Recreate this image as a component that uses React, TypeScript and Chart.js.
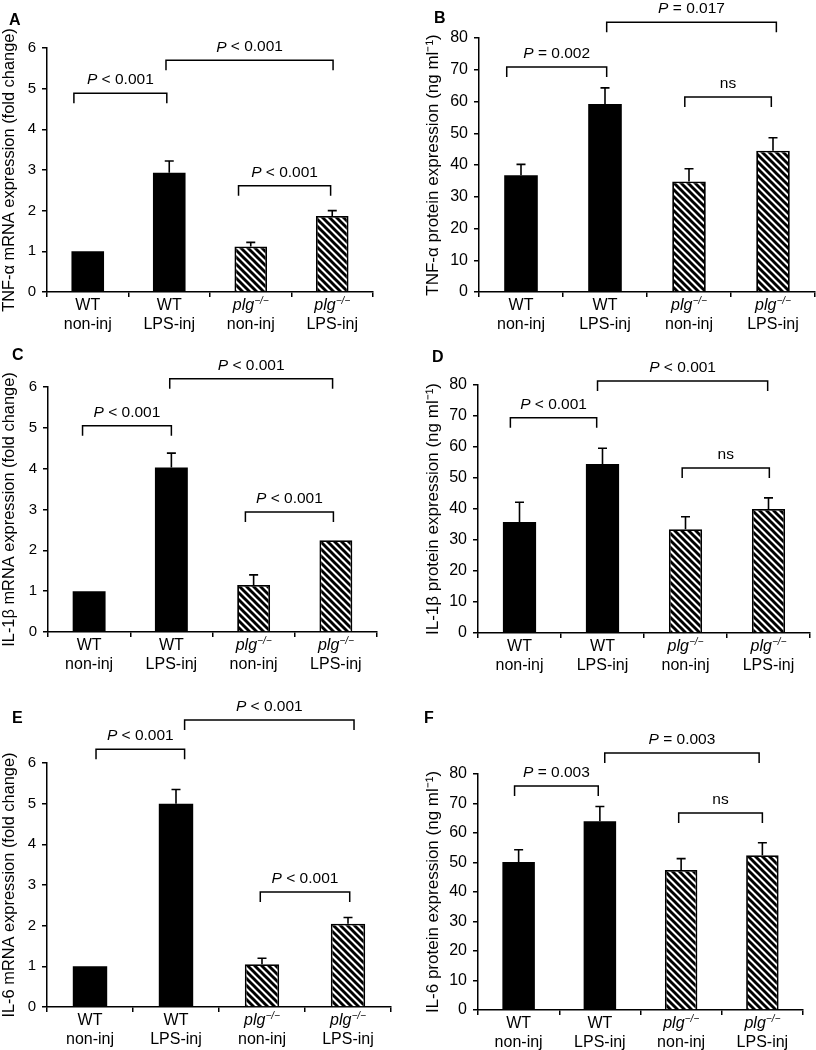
import React, { useEffect, useRef } from 'react';
import { Chart, registerables } from 'chart.js';

Chart.register(...registerables);

// ---------- data ----------
const groupTop = ['WT', 'WT', 'plg', 'plg'];
const groupSup = ['', '', '−/−', '−/−'];
const groupBottom = ['non-inj', 'LPS-inj', 'non-inj', 'LPS-inj'];
const groupHatched = [false, false, true, true];

const tnfMrnaMean = [1.0, 2.93, 1.12, 1.87];
const tnfMrnaSem = [0, 0.29, 0.1, 0.13];
const tnfProtMean = [36.8, 59.2, 34.8, 44.5];
const tnfProtSem = [3.4, 5.1, 4.0, 4.1];
const il1bMrnaMean = [1.0, 4.03, 1.15, 2.25];
const il1bMrnaSem = [0, 0.35, 0.25, 0];
const il1bProtMean = [35.8, 54.5, 33.5, 40.0];
const il1bProtSem = [6.4, 5.1, 4.0, 3.6];
const il6MrnaMean = [1.0, 5.0, 1.05, 2.05];
const il6MrnaSem = [0, 0.35, 0.15, 0.15];
const il6ProtMean = [50.2, 64.0, 47.5, 52.5];
const il6ProtSem = [4.1, 5.0, 3.8, 4.2];

const mrnaAxis = { max: 6, step: 1 };
const protAxis = { max: 80, step: 10 };

// significance brackets: [from (category pos), to (category pos), level (value), label]
const tnfMrnaSig: [number, number, number, string][] = [
  [-0.17, 0.97, 4.89, 'P < 0.001'],
  [0.96, 3.01, 5.7, 'P < 0.001'],
  [1.85, 2.98, 2.61, 'P < 0.001'],
];
const tnfProtSig: [number, number, number, string][] = [
  [-0.17, 1.02, 70.9, 'P = 0.002'],
  [1.02, 3.04, 85.0, 'P = 0.017'],
  [1.95, 2.98, 61.4, 'ns'],
];
const il1bMrnaSig: [number, number, number, string][] = [
  [-0.08, 1.0, 5.05, 'P < 0.001'],
  [0.98, 2.96, 6.2, 'P < 0.001'],
  [1.9, 2.97, 2.94, 'P < 0.001'],
];
const il1bProtSig: [number, number, number, string][] = [
  [-0.11, 0.93, 69.4, 'P < 0.001'],
  [0.94, 2.99, 81.3, 'P < 0.001'],
  [1.96, 3.01, 53.2, 'ns'],
];
const il6MrnaSig: [number, number, number, string][] = [
  [0.07, 1.1, 6.34, 'P < 0.001'],
  [1.1, 3.07, 7.06, 'P < 0.001'],
  [1.98, 3.02, 2.83, 'P < 0.001'],
];
const il6ProtSig: [number, number, number, string][] = [
  [-0.05, 0.98, 75.9, 'P = 0.003'],
  [1.06, 2.96, 87.1, 'P = 0.003'],
  [1.97, 3.0, 66.8, 'ns'],
];

const panelLetters = ['A', 'B', 'C', 'D', 'E', 'F'];
const yTitles = [
  'TNF-α mRNA expression (fold change)',
  'TNF-α protein expression (ng ml⁻¹)',
  'IL-1β mRNA expression (fold change)',
  'IL-1β protein expression (ng ml⁻¹)',
  'IL-6 mRNA expression (fold change)',
  'IL-6 protein expression (ng ml⁻¹)',
];

const panelData = [
  { mean: tnfMrnaMean, sem: tnfMrnaSem, axis: mrnaAxis, sig: tnfMrnaSig },
  { mean: tnfProtMean, sem: tnfProtSem, axis: protAxis, sig: tnfProtSig },
  { mean: il1bMrnaMean, sem: il1bMrnaSem, axis: mrnaAxis, sig: il1bMrnaSig },
  { mean: il1bProtMean, sem: il1bProtSem, axis: protAxis, sig: il1bProtSig },
  { mean: il6MrnaMean, sem: il6MrnaSem, axis: mrnaAxis, sig: il6MrnaSig },
  { mean: il6ProtMean, sem: il6ProtSem, axis: protAxis, sig: il6ProtSig },
];

// ---------- layout (page pixels) ----------
const panelBoxes = [
  { cx: 0, cy: 0, cw: 400, ch: 340, l: 47, r: 373, t: 48, b: 292, titleX: 8, letterX: 17, letterY: 20, tickFont: 15, titleFont: 16.4 },
  { cx: 400, cy: 0, cw: 416, ch: 340, l: 479, r: 815, t: 38, b: 292, titleX: 433, letterX: 442, letterY: 18, tickFont: 16, titleFont: 17 },
  { cx: 0, cy: 340, cw: 400, ch: 350, l: 48, r: 377, t: 387, b: 632, titleX: 8, letterX: 20, letterY: 355, tickFont: 15, titleFont: 16.4 },
  { cx: 400, cy: 340, cw: 416, ch: 350, l: 478, r: 810, t: 385, b: 633, titleX: 433, letterX: 440, letterY: 357, tickFont: 16, titleFont: 17 },
  { cx: 0, cy: 690, cw: 400, ch: 360, l: 47, r: 391, t: 763, b: 1007, titleX: 8, letterX: 20, letterY: 718, tickFont: 15, titleFont: 16.4 },
  { cx: 400, cy: 690, cw: 416, ch: 360, l: 478, r: 803, t: 774, b: 1010, titleX: 433, letterX: 432, letterY: 718, tickFont: 16, titleFont: 17 },
];

const FONT = "'Liberation Sans', Arial, Helvetica, sans-serif";
const LABEL_SIZE = 16;
const SIG_SIZE = 15.5;

function makeHatch(): CanvasPattern | string {
  const s = 7;
  const c = document.createElement('canvas');
  c.width = s;
  c.height = s;
  const g = c.getContext('2d');
  if (!g) return '#000';
  g.fillStyle = '#fff';
  g.fillRect(0, 0, s, s);
  g.strokeStyle = '#000';
  g.lineWidth = 2.9;
  g.beginPath();
  g.moveTo(-2, -2);
  g.lineTo(s + 2, s + 2);
  g.moveTo(-2, s - 2);
  g.lineTo(2, s + 2);
  g.moveTo(s - 2, -2);
  g.lineTo(s + 2, 2);
  g.stroke();
  return g.createPattern(c, 'repeat') || '#000';
}

function Panel({ idx }: { idx: number }) {
  const ref = useRef<HTMLCanvasElement>(null);
  const box = panelBoxes[idx];
  const d = panelData[idx];

  useEffect(() => {
    const canvas = ref.current;
    if (!canvas) return;
    const hatch = makeHatch();
    const overlay = {
      id: 'overlay' + idx,
      afterDraw(chart: any) {
        const ctx = chart.ctx as CanvasRenderingContext2D;
        const xs = chart.scales.x;
        const ys = chart.scales.y;
        const meta = chart.getDatasetMeta(0);
        const x0 = xs.getPixelForValue(0);
        const dx = xs.getPixelForValue(1) - x0;
        ctx.save();
        // error bars
        ctx.strokeStyle = '#000';
        ctx.lineWidth = 1.6;
        d.mean.forEach((m: number, i: number) => {
          const e = d.sem[i];
          if (!e) return;
          const px = meta.data[i].x;
          const yTop = ys.getPixelForValue(m + e);
          const yBar = ys.getPixelForValue(m);
          ctx.beginPath();
          ctx.moveTo(px, yBar);
          ctx.lineTo(px, yTop);
          ctx.moveTo(px - 4.5, yTop);
          ctx.lineTo(px + 4.5, yTop);
          ctx.stroke();
        });
        // x labels
        ctx.fillStyle = '#000';
        ctx.textBaseline = 'middle';
        const bottom = chart.chartArea.bottom;
        groupTop.forEach((t, i) => {
          const px = xs.getPixelForValue(i);
          const sup = groupSup[i];
          if (sup) {
            ctx.font = `italic ${LABEL_SIZE}px ${FONT}`;
            const w1 = ctx.measureText(t).width;
            ctx.font = `italic 10px ${FONT}`;
            const w2 = ctx.measureText(sup).width;
            const start = px - (w1 + w2) / 2;
            ctx.textAlign = 'left';
            ctx.font = `italic ${LABEL_SIZE}px ${FONT}`;
            ctx.fillText(t, start, bottom + 14);
            ctx.font = `italic 10px ${FONT}`;
            ctx.fillText(sup, start + w1, bottom + 9);
          } else {
            ctx.textAlign = 'center';
            ctx.font = `${LABEL_SIZE}px ${FONT}`;
            ctx.fillText(t, px, bottom + 14);
          }
          ctx.textAlign = 'center';
          ctx.font = `${LABEL_SIZE}px ${FONT}`;
          ctx.fillText(groupBottom[i], px, bottom + 33);
        });
        // significance brackets
        ctx.lineWidth = 1.5;
        d.sig.forEach(([from, to, level, label]: [number, number, number, string]) => {
          const xa = x0 + from * dx;
          const xb = x0 + to * dx;
          const yl = ys.getPixelForValue(level);
          ctx.beginPath();
          ctx.moveTo(xa, yl + 10);
          ctx.lineTo(xa, yl);
          ctx.lineTo(xb, yl);
          ctx.lineTo(xb, yl + 10);
          ctx.stroke();
          const cxm = (xa + xb) / 2;
          const ty = yl - 13;
          if (label.startsWith('P')) {
            const rest = label.slice(1);
            ctx.font = `italic ${SIG_SIZE}px ${FONT}`;
            const wp = ctx.measureText('P').width;
            ctx.font = `${SIG_SIZE}px ${FONT}`;
            const wr = ctx.measureText(rest).width;
            const st = cxm - (wp + wr) / 2;
            ctx.textAlign = 'left';
            ctx.font = `italic ${SIG_SIZE}px ${FONT}`;
            ctx.fillText('P', st, ty);
            ctx.font = `${SIG_SIZE}px ${FONT}`;
            ctx.fillText(rest, st + wp, ty);
          } else {
            ctx.textAlign = 'center';
            ctx.font = `${SIG_SIZE}px ${FONT}`;
            ctx.fillText(label, cxm, ty);
          }
        });
        ctx.restore();
      },
    };

    const titleLine = box.titleFont * 1.2;
    const chart = new Chart(canvas, {
      type: 'bar',
      data: {
        labels: groupBottom.map((b, i) => groupTop[i] + ' ' + b),
        datasets: [
          {
            data: d.mean,
            backgroundColor: groupHatched.map((h) => (h ? hatch : '#000')),
            borderColor: '#000',
            borderWidth: groupHatched.map((h) => (h ? 1.8 : 0)),
            barPercentage: 0.4,
            categoryPercentage: 1,
          },
        ],
      },
      options: {
        animation: false,
        responsive: false,
        devicePixelRatio: 1,
        layout: {
          padding: { left: 0, right: box.cx + box.cw - box.r, top: box.t - box.cy, bottom: 0 },
        },
        plugins: { legend: { display: false }, tooltip: { enabled: false }, title: { display: false } },
        scales: {
          x: {
            grid: { display: true, drawOnChartArea: false, drawTicks: true, tickLength: 5, color: '#000', lineWidth: 1.5 },
            border: { display: true, color: '#000', width: 1.5 },
            ticks: { display: false },
            afterFit: (s: any) => {
              s.height = box.cy + box.ch - box.b;
            },
          },
          y: {
            min: 0,
            max: d.axis.max,
            grid: { display: true, drawOnChartArea: false, drawTicks: true, tickLength: 5, color: '#000', lineWidth: 1.5 },
            border: { display: true, color: '#000', width: 1.5 },
            ticks: { stepSize: d.axis.step, color: '#000', padding: 6, font: { family: FONT, size: box.tickFont } },
            title: {
              display: true,
              text: yTitles[idx],
              color: '#000',
              font: { family: FONT, size: box.titleFont },
              padding: { top: Math.max(0, box.titleX - box.cx - titleLine / 2), bottom: 0 },
            },
            afterFit: (s: any) => {
              s.width = box.l - box.cx;
            },
          },
        },
      },
      plugins: [overlay],
    } as any);
    return () => chart.destroy();
  }, []);

  return (
    <>
      <canvas
        ref={ref}
        width={box.cw}
        height={box.ch}
        style={{ position: 'absolute', left: box.cx, top: box.cy, width: box.cw, height: box.ch }}
      />
      <div
        style={{
          position: 'absolute',
          left: box.letterX - 8,
          top: box.letterY - 10,
          font: `bold 16px ${FONT}`,
          lineHeight: '20px',
          color: '#000',
        }}
      >
        {panelLetters[idx]}
      </div>
    </>
  );
}

export default function App() {
  return (
    <div style={{ position: 'absolute', left: 0, top: 0, width: 816, height: 1050, background: '#fff', overflow: 'hidden' }}>
      {panelData.map((_, i) => (
        <Panel key={i} idx={i} />
      ))}
    </div>
  );
}
